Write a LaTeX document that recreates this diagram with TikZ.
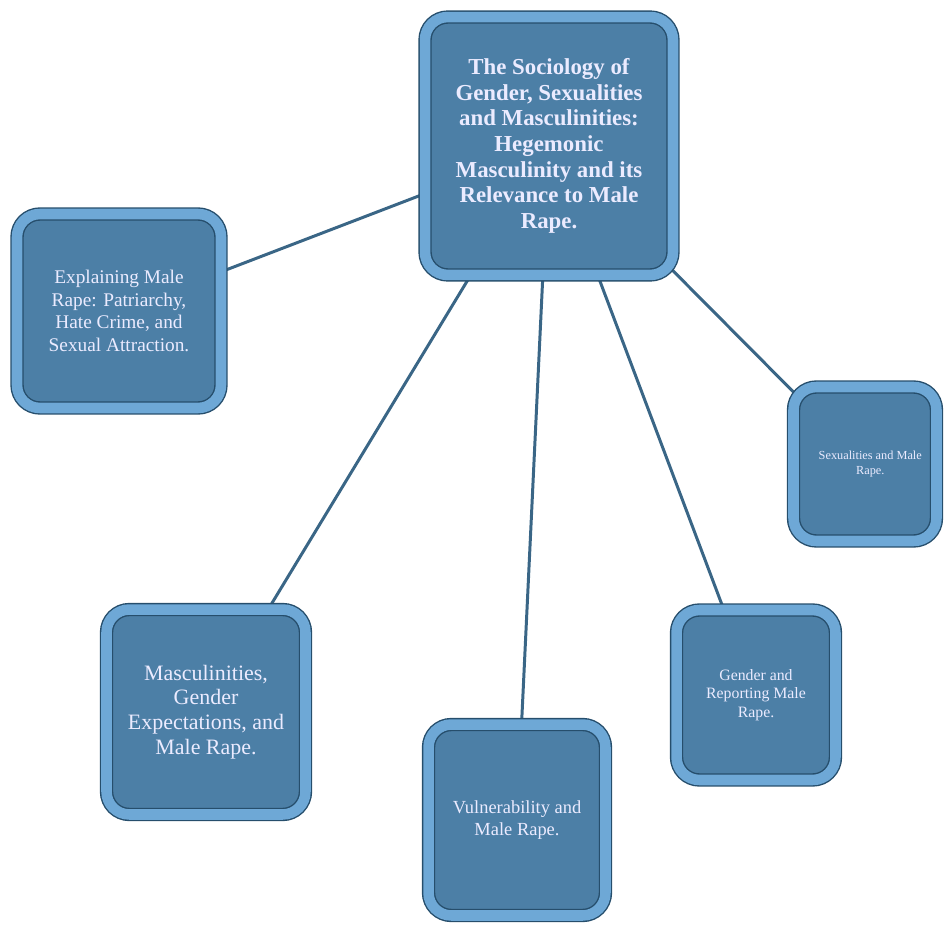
\documentclass[tikz,border=0pt]{standalone}
\usepackage{fontspec}
\setmainfont{Liberation Serif}
\usepackage{tikz}
\usetikzlibrary{shapes,arrows,positioning,backgrounds,shadows}
\definecolor{facecol}{RGB}{76,127,166}
\definecolor{bevelcol}{RGB}{110,168,214}
\definecolor{edgecol}{RGB}{38,78,108}
\definecolor{linecol}{RGB}{58,102,134}
\tikzstyle{block} = [rectangle, draw=edgecol, line width=0.8pt, double=bevelcol, double distance=6pt, fill=facecol, text=white!92!blue, align=center, rounded corners=13pt, inner sep=2pt, drop shadow={opacity=0.22, shadow xshift=2pt, shadow yshift=-2.5pt}]
\tikzstyle{line} = [draw=linecol, line width=1.7pt]

\begin{document}
\begin{tikzpicture}[x=0.02cm, y=-0.02cm]
            \useasboundingbox (0,0) rectangle (944,926);

            \node[block, minimum width=4.96cm, minimum height=5.16cm,
                  font=\bfseries\fontsize{13}{14.6}\selectfont]            (sociology) at (549,146){
                The Sociology of\\ Gender, Sexualities\\ and Masculinities:\\ Hegemonic\\ Masculinity and its\\ Relevance to Male\\ Rape.
            };

            \node[block, minimum width=4.08cm, minimum height=3.88cm,
                  font=\fontsize{11}{12.8}\selectfont]            (explaining) at (119,311){
                Explaining Male\\ Rape: Patriarchy,\\ Hate Crime, and\\ Sexual Attraction.
            };

            \node[block, minimum width=2.86cm, minimum height=3.08cm,
                  font=\fontsize{7}{8.2}\selectfont]            (sexualities) at (865,464){
                \hspace*{6pt}Sexualities and Male\\ \hspace*{6pt}Rape.
            };

            \node[block, minimum width=3.98cm, minimum height=4.1cm,
                  font=\fontsize{12.5}{14}\selectfont]            (masculinities) at (206,712){
                Masculinities,\\ Gender\\ Expectations, and\\ Male Rape.
            };

            \node[block, minimum width=3.54cm, minimum height=3.82cm,
                  font=\fontsize{10.5}{12.2}\selectfont]            (vulnerability) at (517,820){
                Vulnerability and\\ Male Rape.
            };

            \node[block, minimum width=3.18cm, minimum height=3.4cm,
                  font=\fontsize{9}{10.5}\selectfont]            (reporting) at (756,695){
                Gender and\\ Reporting Male\\ Rape.
            };

            % connectors behind the boxes
            \begin{scope}[on background layer]
                \path[line] (sociology.center) --         (explaining.center);
                \path[line] (sociology.center) --         (masculinities.center);
                \path[line] (sociology.center) --         (vulnerability.center);
                \path[line] (sociology.center) --         (reporting.center);
                \path[line] (sociology.center) --         (sexualities.center);
            \end{scope}
        \end{tikzpicture}
\end{document}
